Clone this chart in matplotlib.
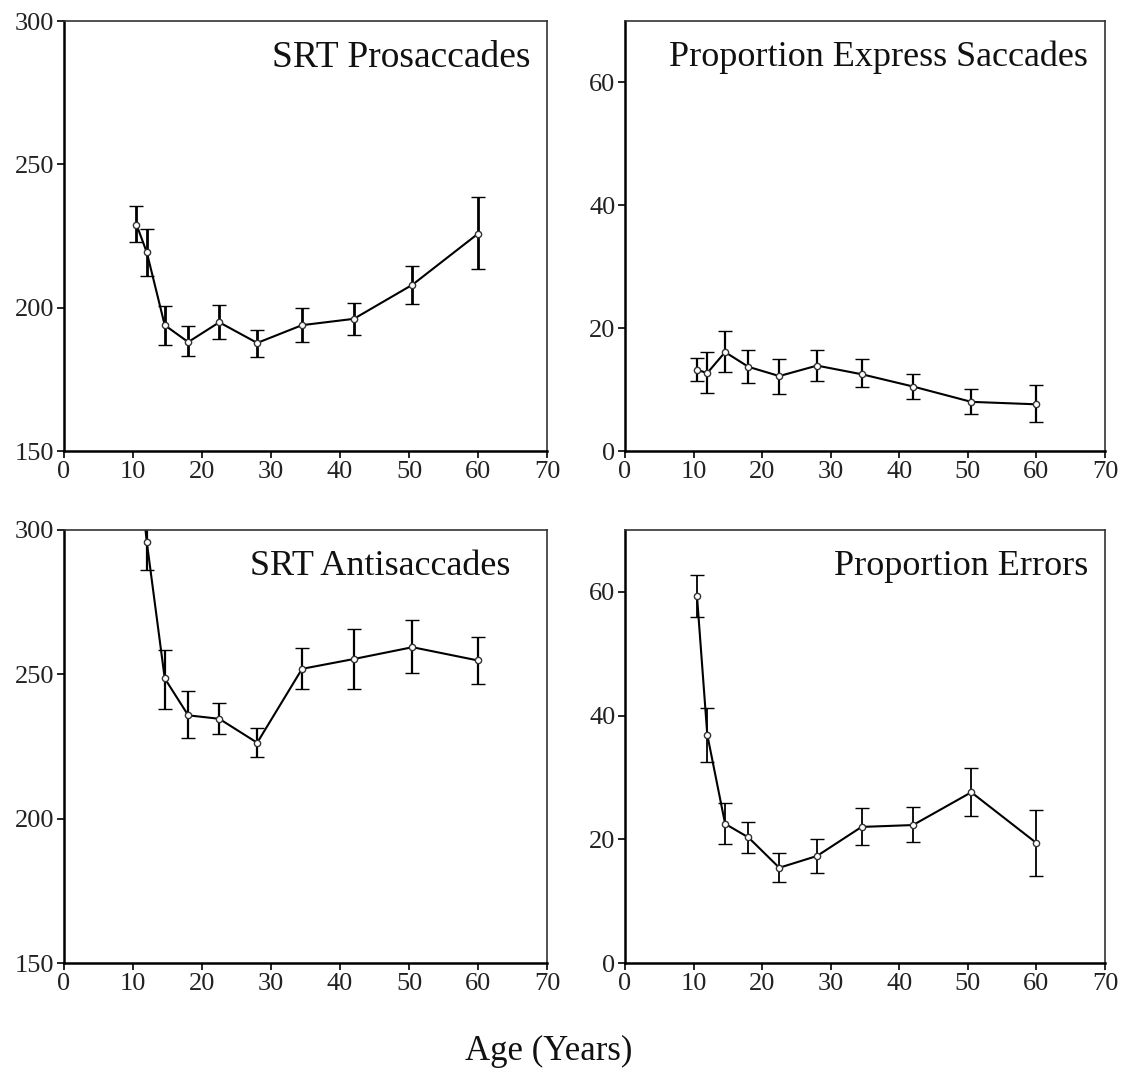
import matplotlib
matplotlib.use("Agg")
import matplotlib.pyplot as plt

plt.rcParams['font.family'] = ['Liberation Serif', 'DejaVu Serif']

ages = [10.5, 12.0, 14.6, 18.0, 22.5, 28.0, 34.5, 42.0, 50.5, 60.0]

srt_pro = [229.0, 219.3, 193.9, 188.0, 194.9, 187.7, 193.9, 196.1, 208.0, 225.8]
srt_pro_hi = [235.6, 227.4, 200.7, 193.5, 201.0, 192.3, 199.9, 201.6, 214.6, 238.7]
srt_pro_lo = [222.9, 210.9, 187.1, 183.1, 189.1, 182.8, 188.0, 190.3, 201.4, 213.5]

express = [13.2, 12.7, 16.1, 13.7, 12.2, 13.9, 12.5, 10.5, 8.0, 7.6]
express_hi = [15.1, 16.1, 19.5, 16.5, 14.9, 16.5, 14.9, 12.5, 10.1, 10.7]
express_lo = [11.4, 9.5, 12.8, 11.0, 9.3, 11.4, 10.4, 8.5, 6.1, 4.8]

srt_anti = [330.0, 295.8, 248.6, 235.8, 234.6, 226.3, 251.9, 255.3, 259.4, 254.8]
srt_anti_hi = [340.0, 305.0, 258.5, 244.1, 240.2, 231.5, 259.0, 265.8, 268.7, 263.1]
srt_anti_lo = [320.0, 286.0, 238.0, 227.9, 229.2, 221.3, 245.0, 245.0, 250.6, 246.6]

errors = [59.3, 36.9, 22.5, 20.3, 15.4, 17.3, 22.0, 22.3, 27.6, 19.4]
errors_hi = [62.8, 41.3, 25.8, 22.8, 17.8, 20.1, 25.1, 25.2, 31.5, 24.8]
errors_lo = [56.0, 32.5, 19.3, 17.8, 13.1, 14.6, 19.1, 19.6, 23.7, 14.0]

titles = ["SRT Prosaccades", "Proportion Express Saccades", "SRT Antisaccades", "Proportion Errors"]
xticks = [0, 10, 20, 30, 40, 50, 60, 70]
srt_yticks = [150, 200, 250, 300]
prop_yticks = [0, 20, 40, 60]

W, H = 1121, 1088
fig = plt.figure(figsize=(W / 100, H / 100), dpi=100)

def rect(l, r, t, b):
    return [l / W, 1 - b / H, (r - l) / W, (b - t) / H]

boxes = [rect(64, 547, 21, 451), rect(625, 1105, 21, 451),
         rect(64, 547, 530, 963), rect(625, 1105, 530, 963)]

panels = [
    (srt_pro, srt_pro_lo, srt_pro_hi, (150, 300), srt_yticks, 2.0),
    (express, express_lo, express_hi, (0, 70), prop_yticks, 1.6),
    (srt_anti, srt_anti_lo, srt_anti_hi, (150, 300), srt_yticks, 1.6),
    (errors, errors_lo, errors_hi, (0, 70), prop_yticks, 1.3),
]

title_sizes = [27, 26, 26, 26]
title_x = [0.965, 0.965, 0.925, 0.965]

for box, title, tsz, tx, (vals, lo, hi, ylim, yt, elw) in zip(boxes, titles, title_sizes, title_x, panels):
    ax = fig.add_axes(box)
    yerr = [[v - l for v, l in zip(vals, lo)], [h - v for v, h in zip(vals, hi)]]
    ax.errorbar(ages, vals, yerr=yerr, color='black', lw=1.5, elinewidth=elw,
                capsize=5, capthick=elw, marker='o', ms=4.5, mfc='white',
                mec='#333333', mew=1.0, clip_on=True)
    ax.set_xlim(0, 70)
    ax.set_ylim(*ylim)
    ax.set_xticks(xticks)
    ax.set_yticks(yt)
    ax.tick_params(direction='out', length=5, width=1.2, labelsize=19, pad=2,
                   colors='black')
    for lab in ax.get_xticklabels() + ax.get_yticklabels():
        lab.set_color('#222222')
    for side in ['left', 'bottom']:
        ax.spines[side].set_linewidth(1.8)
    for side in ['top', 'right']:
        ax.spines[side].set_linewidth(1.2)
        ax.spines[side].set_color('#333333')
    ax.text(tx, 0.915, title, transform=ax.transAxes, ha='right', va='center',
            fontsize=tsz, color='#111111')

fig.text(549 / W, 1 - 1051 / H, "Age (Years)", ha='center', va='center',
         fontsize=25, color='#111111')

fig.savefig("out.png", dpi=100, facecolor='white')
